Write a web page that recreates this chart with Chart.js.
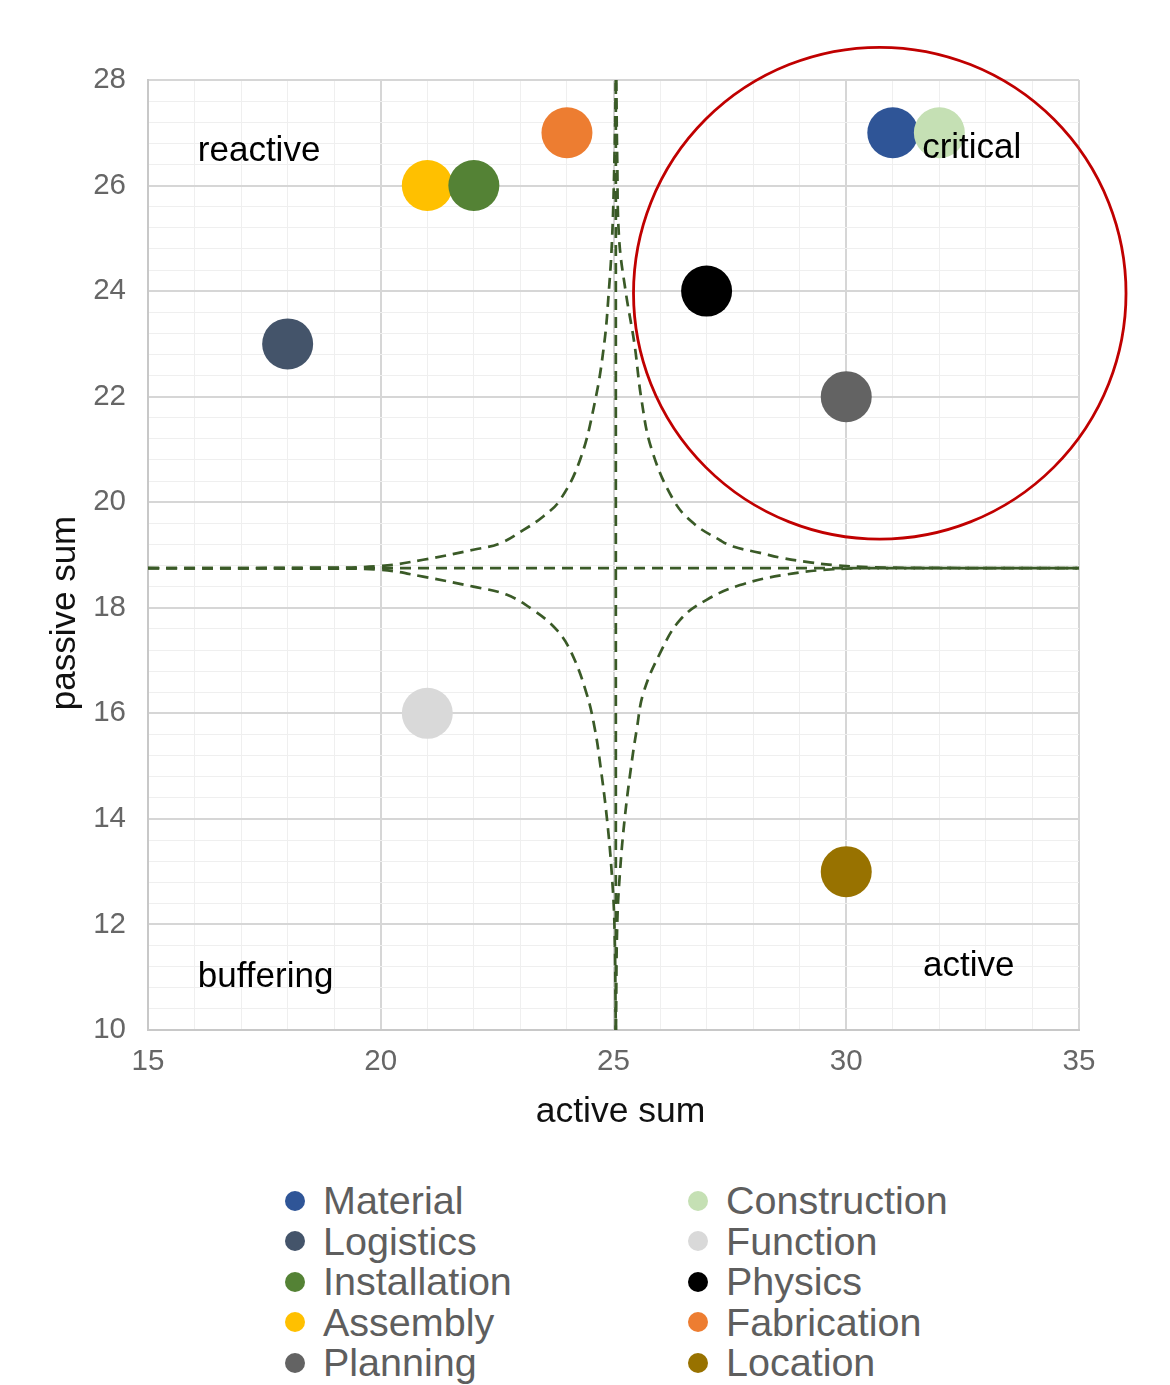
<!DOCTYPE html>
<html>
<head>
<meta charset="utf-8">
<script src="https://cdn.jsdelivr.net/npm/chart.js@4/dist/chart.umd.min.js"></script>
<style>
  html, body { margin: 0; padding: 0; background: #fff; }
  #wrap { position: relative; width: 1170px; height: 1385px; overflow: hidden; }
  #c { position: absolute; left: 0; top: 0; }
  #legend { position: absolute; left: 0; top: 1180px; width: 1170px; font-family: "Liberation Sans", Arial, Helvetica, sans-serif; font-size: 39.5px; color: #5e5e5e; }
  .col { position: absolute; top: 0; }
  .item { height: 40.5px; line-height: 40.5px; white-space: nowrap; }
  .dot { display: inline-block; width: 20px; height: 20px; border-radius: 50%; margin-right: 18px; vertical-align: middle; position: relative; top: -3px; }
</style>
</head>
<body>
<div id="wrap">
  <canvas id="c" width="1170" height="1150"></canvas>
  <div id="legend"></div>
</div>
<script>
// ---- data ----
const seriesNames  = ["Material", "Logistics", "Installation", "Assembly", "Planning",
                      "Construction", "Function", "Physics", "Fabrication", "Location"];
const activeSum    = [31, 18, 22, 21, 30, 32, 21, 27, 24, 30];
const passiveSum   = [27, 23, 26, 26, 22, 27, 16, 24, 27, 13];
const seriesColors = ["#2F5597", "#44546A", "#548235", "#FFC000", "#636363",
                      "#C5E0B4", "#D9D9D9", "#000000", "#ED7D31", "#987200"];

const xTicksMajor = [15, 20, 25, 30, 35];
const yTicksMajor = [10, 12, 14, 16, 18, 20, 22, 24, 26, 28];
const xTitle = "active sum";
const yTitle = "passive sum";

// dashed separator lines
const hLineX = [15, 35];
const hLineY = [18.75, 18.75];
const vLineX = [25.05, 25.05];
const vLineY = [10, 28];

const upperRightX = [25.06, 25.08, 25.12, 25.26, 25.45, 25.6, 25.82, 26.29, 26.72, 27.29, 27.57, 28.15, 28.64, 29.22, 29.72, 30.5, 32, 35];
const upperRightY = [28, 26.5, 25, 24, 23, 21.95, 21.0, 20.04, 19.6, 19.28, 19.16, 19.04, 18.94, 18.86, 18.81, 18.77, 18.755, 18.75];
const upperLeftX  = [25.05, 25.02, 24.97, 24.9, 24.8, 24.6, 24.28, 23.85, 23.49, 23.06, 22.56, 21.99, 20.91, 19.98, 18.5, 15];
const upperLeftY  = [28, 26.5, 25, 24, 23, 21.9, 20.8, 20.04, 19.73, 19.47, 19.22, 19.10, 18.91, 18.79, 18.76, 18.75];
const lowerLeftX  = [15, 18.5, 19.98, 20.91, 21.99, 22.7, 23.27, 23.78, 24.1, 24.42, 24.6, 24.72, 24.86, 24.96, 25.02, 25.05];
const lowerLeftY  = [18.75, 18.74, 18.72, 18.59, 18.40, 18.25, 17.96, 17.58, 17.14, 16.38, 15.7, 15.0, 14.0, 13.0, 12.0, 10];
const lowerRightX = [25.05, 25.08, 25.14, 25.24, 25.38, 25.5, 25.64, 26.0, 26.43, 27.0, 27.72, 28.64, 29.72, 31, 35];
const lowerRightY = [10, 12.0, 13.0, 14.0, 15.0, 15.7, 16.38, 17.14, 17.77, 18.15, 18.43, 18.62, 18.73, 18.75, 18.75];

// critical region (circle) centre and radii in data units
const criticalCenterX = [30.72];
const criticalCenterY = [23.96];
const criticalRadiusX = [5.29];
const criticalRadiusY = [4.66];

// quadrant labels (left edge x, middle y, in data units)
const quadrantLabels = ["reactive", "critical", "buffering", "active"];
const quadrantX = [16.07, 31.63, 16.07, 31.65];
const quadrantY = [26.64, 26.70, 10.99, 11.21];

// ---- build ----
function pts(xs, ys) { return xs.map((x, i) => ({ x: x, y: ys[i] })); }

const DASH_COLOR = "#3A5A27";
const datasets = [];

seriesNames.forEach((name, i) => {
  datasets.push({
    label: name,
    data: [{ x: activeSum[i], y: passiveSum[i] }],
    backgroundColor: seriesColors[i],
    borderColor: seriesColors[i],
    borderWidth: 0,
    pointRadius: 25.5,
    pointHoverRadius: 25.5,
    order: name === "Construction" ? 1 : 2
  });
});

function dashLine(label, xs, ys, tension) {
  return {
    label: label, data: pts(xs, ys), showLine: true, pointRadius: 0, pointHoverRadius: 0,
    borderColor: DASH_COLOR, borderWidth: 2.7, borderDash: [11, 7], tension: tension,
    fill: false, order: 3
  };
}
datasets.push(dashLine("_h", hLineX, hLineY, 0));
datasets.push(dashLine("_v", vLineX, vLineY, 0));
datasets.push(dashLine("_ur", upperRightX, upperRightY, 0.4));
datasets.push(dashLine("_ul", upperLeftX, upperLeftY, 0.4));
datasets.push(dashLine("_ll", lowerLeftX, lowerLeftY, 0.4));
datasets.push(dashLine("_lr", lowerRightX, lowerRightY, 0.4));

const FONT = '"Liberation Sans", Arial, Helvetica, sans-serif';

const overlayPlugin = {
  id: "overlay",
  afterDatasetsDraw(chart) {
    const ctx = chart.ctx, xs = chart.scales.x, ys = chart.scales.y;
    ctx.save();
    // critical region circle
    criticalCenterX.forEach((cx, i) => {
      const px = xs.getPixelForValue(cx), py = ys.getPixelForValue(criticalCenterY[i]);
      const rx = Math.abs(xs.getPixelForValue(cx + criticalRadiusX[i]) - px);
      const ry = Math.abs(ys.getPixelForValue(criticalCenterY[i] + criticalRadiusY[i]) - py);
      ctx.beginPath();
      ctx.ellipse(px, py, rx, ry, 0, 0, Math.PI * 2);
      ctx.strokeStyle = "#C00000";
      ctx.lineWidth = 2.8;
      ctx.stroke();
    });
    // quadrant labels
    ctx.font = '35px ' + FONT;
    ctx.fillStyle = "#000";
    ctx.textAlign = "left";
    ctx.textBaseline = "middle";
    quadrantLabels.forEach((t, i) => {
      ctx.fillText(t, xs.getPixelForValue(quadrantX[i]), ys.getPixelForValue(quadrantY[i]));
    });
    ctx.restore();
  },
  afterDraw(chart) {
    const ctx = chart.ctx, area = chart.chartArea;
    ctx.save();
    ctx.fillStyle = "#111";
    ctx.textAlign = "center";
    ctx.textBaseline = "middle";
    // axis titles
    ctx.font = '35.5px ' + FONT;
    ctx.fillText(xTitle, (area.left + area.right) / 2 + 7, area.bottom + 82);
    ctx.font = '35px ' + FONT;
    ctx.translate(65, (area.top + area.bottom) / 2 + 58);
    ctx.rotate(-Math.PI / 2);
    ctx.fillText(yTitle, 0, 0);
    ctx.restore();
  }
};

const isMajorX = v => xTicksMajor.some(m => Math.abs(m - v) < 1e-6);
const isMajorY = v => yTicksMajor.some(m => Math.abs(m - v) < 1e-6);

new Chart(document.getElementById("c"), {
  type: "scatter",
  data: { datasets: datasets },
  plugins: [overlayPlugin],
  options: {
    responsive: false,
    devicePixelRatio: 1,
    animation: false,
    events: [],
    layout: { padding: { top: 80, right: 91, left: 0, bottom: 0 } },
    plugins: { legend: { display: false }, tooltip: { enabled: false } },
    scales: {
      x: {
        type: "linear", min: 15, max: 35,
        afterFit: s => { s.height = 120; },
        ticks: {
          stepSize: 1, autoSkip: false, maxRotation: 0, padding: 14,
          color: "#666", font: { family: FONT, size: 29.5 },
          callback: v => isMajorX(v) ? String(v) : ""
        },
        grid: {
          drawTicks: false,
          color: c => isMajorX(c.tick.value) ? "#D6D6D6" : "#EFEFEF",
          lineWidth: c => isMajorX(c.tick.value) ? 2 : 1
        },
        border: { color: "#C8C8C8", width: 2 }
      },
      y: {
        type: "linear", min: 10, max: 28,
        afterFit: s => { s.width = 148; },
        ticks: {
          stepSize: 0.4, autoSkip: false, padding: 22,
          color: "#666", font: { family: FONT, size: 29.5 },
          callback: v => isMajorY(v) ? String(Math.round(v)) : ""
        },
        grid: {
          drawTicks: false,
          color: c => isMajorY(c.tick.value) ? "#D6D6D6" : "#EFEFEF",
          lineWidth: c => isMajorY(c.tick.value) ? 2 : 1
        },
        border: { color: "#C8C8C8", width: 2 }
      }
    }
  }
});

// legend (two columns, generated from the series arrays)
const legend = document.getElementById("legend");
const colLeft = [285, 688];
for (let c = 0; c < 2; c++) {
  const col = document.createElement("div");
  col.className = "col";
  col.style.left = colLeft[c] + "px";
  for (let r = 0; r < 5; r++) {
    const i = c * 5 + r;
    const item = document.createElement("div");
    item.className = "item";
    const dot = document.createElement("span");
    dot.className = "dot";
    dot.style.background = seriesColors[i];
    item.appendChild(dot);
    item.appendChild(document.createTextNode(seriesNames[i]));
    col.appendChild(item);
  }
  legend.appendChild(col);
}
</script>
</body>
</html>
